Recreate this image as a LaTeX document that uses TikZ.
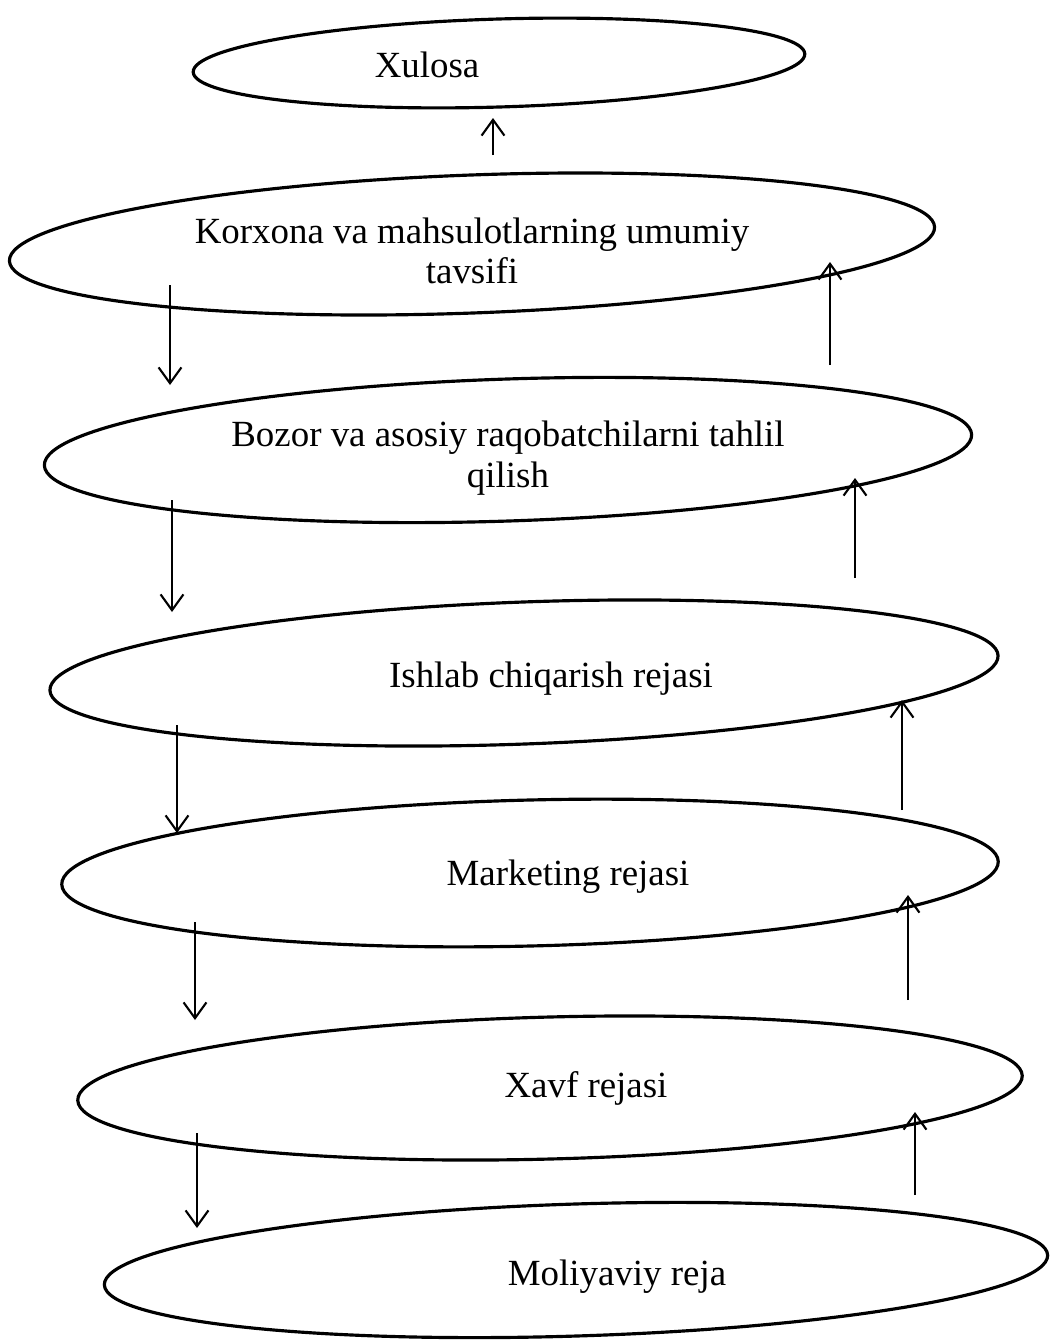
\documentclass[tikz,border=0pt]{standalone}
\usepackage{fontspec}
\setmainfont{Liberation Serif}
\usetikzlibrary{shapes.geometric,arrows.meta,calc}

\tikzset{
  blok/.style={ellipse,draw,line width=1.8pt,inner sep=0pt},
  matn/.style={font=\fontsize{21}{23}\selectfont,align=center},
  strelka/.style={line width=1.2pt,-{Straight Barb[length=9pt,width=13pt]}}
}

\begin{document}
\begin{tikzpicture}[x=0.02cm,y=-0.02cm]
        \useasboundingbox (0,0) rectangle (1053,1342);
        \node[blok,rotate=1.7,minimum width=12.24cm,minimum height=1.76cm,
              label={[matn,xshift=-1.44cm,yshift=-0.04cm]center:Xulosa}] (xulosa) at (499,63) {};
        \node[blok,rotate=2.1,minimum width=18.52cm,minimum height=2.76cm,
              label={[matn,yshift=-0.14cm]center:Korxona va mahsulotlarning umumiy\\tavsifi}] (korxona) at (472,244) {};
        \node[blok,rotate=1.9,minimum width=18.56cm,minimum height=2.84cm,
              label={[matn,yshift=-0.16cm]center:Bozor va asosiy raqobatchilarni tahlil\\qilish}] (bozor) at (508,450) {};
        \node[blok,rotate=2.1,minimum width=18.98cm,minimum height=2.84cm,
              label={[matn,xshift=0.54cm,yshift=-0.12cm]center:Ishlab chiqarish rejasi}] (ishlab) at (524,673) {};
        \node[blok,rotate=1.4,minimum width=18.74cm,minimum height=2.92cm,
              label={[matn,xshift=0.76cm,yshift=-0.08cm]center:Marketing rejasi}] (marketing) at (530,873) {};
        \node[blok,rotate=1.5,minimum width=18.9cm,minimum height=2.84cm,
              label={[matn,xshift=0.72cm]center:Xavf rejasi}] (xavf) at (550,1088) {};
        \node[blok,rotate=1.8,minimum width=18.88cm,minimum height=2.64cm,
              label={[matn,xshift=0.82cm,yshift=-0.14cm]center:Moliyaviy reja}] (moliya) at (576,1270) {};

        % pastga
        \draw[strelka] ($(korxona.center)+(-302,41)$) -- ++(0,100);
        \draw[strelka] ($(bozor.center)+(-336,50)$) -- ++(0,112);
        \draw[strelka] ($(ishlab.center)+(-347,52)$) -- ++(0,108);
        \draw[strelka] ($(marketing.center)+(-335,49)$) -- ++(0,98);
        \draw[strelka] ($(xavf.center)+(-353,45)$) -- ++(0,95);

        % yuqoriga
        \draw[strelka] ($(xulosa.center)+(-6,92)$) -- ++(0,-37);
        \draw[strelka] ($(korxona.center)+(358,121)$) -- ++(0,-103);
        \draw[strelka] ($(bozor.center)+(347,128)$) -- ++(0,-100);
        \draw[strelka] ($(ishlab.center)+(378,137)$) -- ++(0,-110);
        \draw[strelka] ($(marketing.center)+(378,127)$) -- ++(0,-105);
        \draw[strelka] ($(xavf.center)+(365,107)$) -- ++(0,-83);
\end{tikzpicture}
\end{document}
